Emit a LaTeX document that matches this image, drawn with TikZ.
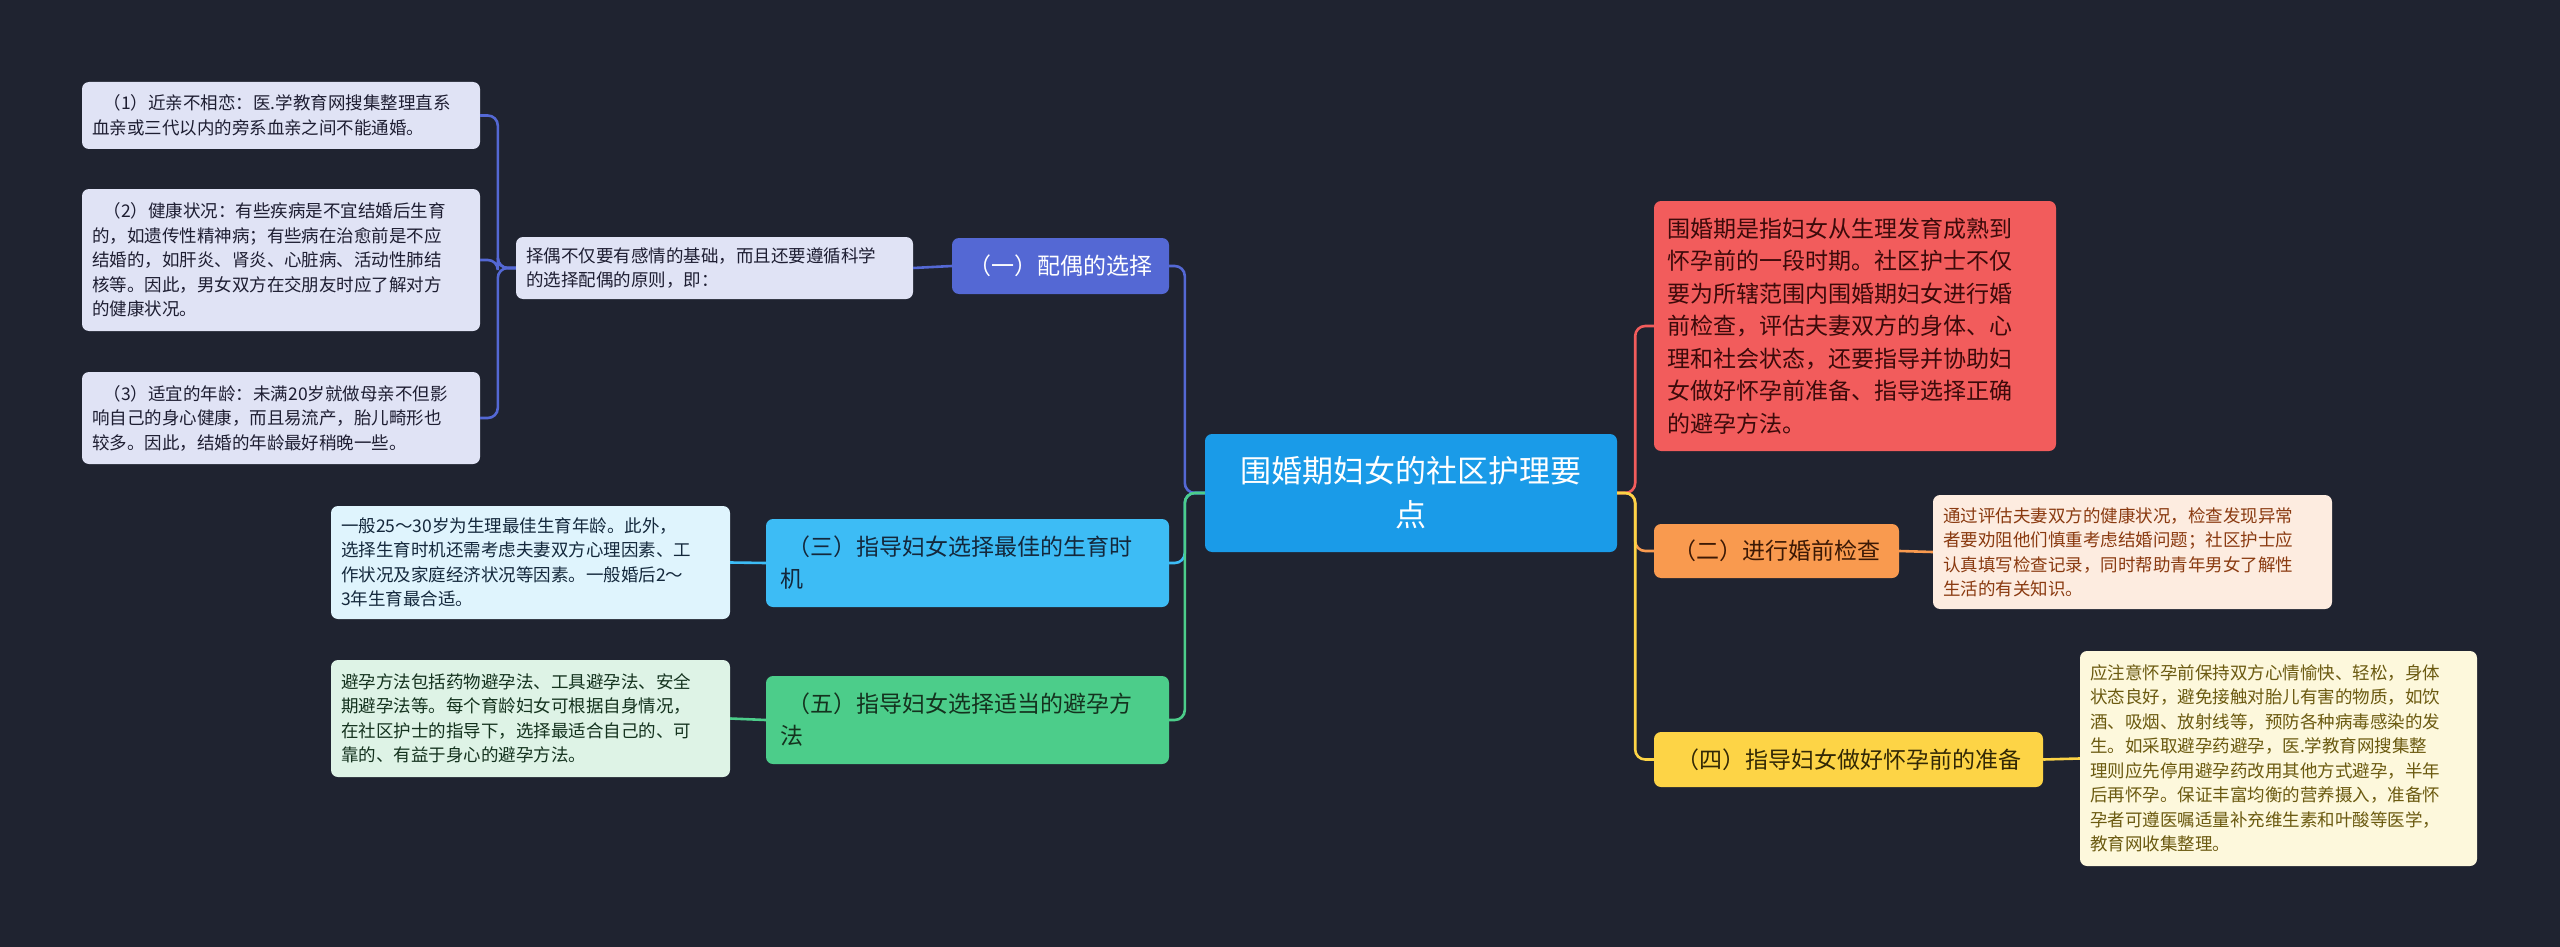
\documentclass[tikz,border=0pt]{standalone}
\usepackage{fontspec}
\setmainfont{Noto Sans CJK SC}
\begin{document}
\begin{tikzpicture}[x=1pt,y=-1pt,
  box/.style={rounded corners=7pt,inner sep=0pt,align=left,anchor=center},
  leaf/.style={box,font=\fontsize{17.5}{24.5}\selectfont,text width=#1},
  br/.style={box,font=\fontsize{23}{32}\selectfont},
  cn/.style={line width=2.6pt,rounded corners=10pt}]
\fill[fill={rgb,255:red,31;green,35;blue,48}] (0,0) rectangle (2560,947);
\useasboundingbox (0,0) rectangle (2560,947);
\definecolor{cI}{HTML}{5468D4}\definecolor{cIII}{HTML}{3DBCF5}\definecolor{cV}{HTML}{4CCD8A}
\definecolor{cR}{HTML}{F25C5C}\definecolor{cII}{HTML}{F99A4F}\definecolor{cIV}{HTML}{FDD446}
\definecolor{cC}{HTML}{1A9BE8}
% nodes
\node[box,fill=cC,minimum width=412,minimum height=118,text=white,align=center,text width=380,font=\fontsize{31}{44}\selectfont] (c) at (1411,493) {围婚期妇女的社区护理要\\点};
\node[br,fill=cI,minimum width=217,minimum height=56,text=white] (n1) at (1060.5,266) {（一）配偶的选择};
\node[leaf=377,fill={rgb,255:red,224;green,227;blue,245},minimum width=397,minimum height=62,text={rgb,255:red,30;green,30;blue,50}] (n1c) at (714.5,268) {择偶不仅要有感情的基础，而且还要遵循科学\\的选择配偶的原则，即：};
\node[leaf=378,fill={rgb,255:red,224;green,227;blue,245},minimum width=398,minimum height=67,text={rgb,255:red,30;green,30;blue,50}] (l1) at (281,115.5) {\ \ （1）近亲不相恋：医.学教育网搜集整理直系\\血亲或三代以内的旁系血亲之间不能通婚。};
\node[leaf=378,fill={rgb,255:red,224;green,227;blue,245},minimum width=398,minimum height=142,text={rgb,255:red,30;green,30;blue,50}] (l2) at (281,260) {\ \ （2）健康状况：有些疾病是不宜结婚后生育\\的，如遗传性精神病；有些病在治愈前是不应\\结婚的，如肝炎、肾炎、心脏病、活动性肺结\\核等。因此，男女双方在交朋友时应了解对方\\的健康状况。};
\node[leaf=378,fill={rgb,255:red,224;green,227;blue,245},minimum width=398,minimum height=92,text={rgb,255:red,30;green,30;blue,50}] (l3) at (281,418) {\ \ （3）适宜的年龄：未满20岁就做母亲不但影\\响自己的身心健康，而且易流产，胎儿畸形也\\较多。因此，结婚的年龄最好稍晚一些。};
\node[br,fill=cIII,minimum width=403,minimum height=88,text width=375,text={rgb,255:red,20;green,40;blue,60}] (n3) at (967.5,563) {\ （三）指导妇女选择最佳的生育时\\机};
\node[leaf=379,fill={rgb,255:red,223;green,244;blue,253},minimum width=399,minimum height=113,text={rgb,255:red,20;green,40;blue,60}] (t3) at (530.5,562.5) {一般25～30岁为生理最佳生育年龄。此外，\\选择生育时机还需考虑夫妻双方心理因素、工\\作状况及家庭经济状况等因素。一般婚后2～\\3年生育最合适。};
\node[br,fill=cV,minimum width=403,minimum height=88,text width=375,text={rgb,255:red,20;green,50;blue,30}] (n5) at (967.5,720) {\ （五）指导妇女选择适当的避孕方\\法};
\node[leaf=379,fill={rgb,255:red,222;green,243;blue,230},minimum width=399,minimum height=117,text={rgb,255:red,20;green,50;blue,30}] (t5) at (530.5,718.5) {避孕方法包括药物避孕法、工具避孕法、安全\\期避孕法等。每个育龄妇女可根据自身情况，\\在社区护士的指导下，选择最适合自己的、可\\靠的、有益于身心的避孕方法。};
\node[box,fill=cR,minimum width=402,minimum height=250,text width=376,font=\fontsize{23}{32.5}\selectfont,text={rgb,255:red,60;green,10;blue,10}] (r) at (1855,326) {围婚期是指妇女从生理发育成熟到\\怀孕前的一段时期。社区护士不仅\\要为所辖范围内围婚期妇女进行婚\\前检查，评估夫妻双方的身体、心\\理和社会状态，还要指导并协助妇\\女做好怀孕前准备、指导选择正确\\的避孕方法。};
\node[br,fill=cII,minimum width=245,minimum height=54,text={rgb,255:red,60;green,25;blue,5}] (n2) at (1776.5,551) {（二）进行婚前检查};
\node[leaf=379,fill={rgb,255:red,253;green,236;blue,224},minimum width=399,minimum height=114,text={rgb,255:red,138;green,58;blue,16}] (t2) at (2132.5,552) {通过评估夫妻双方的健康状况，检查发现异常\\者要劝阻他们慎重考虑结婚问题；社区护士应\\认真填写检查记录，同时帮助青年男女了解性\\生活的有关知识。};
\node[br,fill=cIV,minimum width=389,minimum height=55,text={rgb,255:red,50;green,40;blue,5}] (n4) at (1848.5,759.5) {（四）指导妇女做好怀孕前的准备};
\node[leaf=377,fill={rgb,255:red,253;green,248;blue,220},minimum width=397,minimum height=215,text={rgb,255:red,107;green,90;blue,16}] (t4) at (2278.5,758.5) {应注意怀孕前保持双方心情愉快、轻松，身体\\状态良好，避免接触对胎儿有害的物质，如饮\\酒、吸烟、放射线等，预防各种病毒感染的发\\生。如采取避孕药避孕，医.学教育网搜集整\\理则应先停用避孕药改用其他方式避孕，半年\\后再怀孕。保证丰富均衡的营养摄入，准备怀\\孕者可遵医嘱适量补充维生素和叶酸等医学，\\教育网收集整理。};
% connectors
\draw[cn,cI] (c.west) -- ++(-20,0) |- (n1.east);
\draw[cn,cIII] (c.west) -- ++(-20,0) |- (n3.east);
\draw[cn,cV] (c.west) -- ++(-20,0) |- (n5.east);
\draw[cn,cR] (c.east) -- ++(18,0) |- (r.west);
\draw[cn,cII] (c.east) -- ++(18,0) |- (n2.west);
\draw[cn,cIV] (c.east) -- ++(18,0) |- (n4.west);
\draw[cn,cI] (n1.west) -- (n1c.east);
\draw[cn,cI] (n1c.west) -- ++(-18,0) |- (l1.east);
\draw[cn,cI] (n1c.west) -- ++(-18,0) |- (l2.east);
\draw[cn,cI] (n1c.west) -- ++(-18,0) |- (l3.east);
\draw[cn,cIII] (n3.west) -- (t3.east);
\draw[cn,cV] (n5.west) -- (t5.east);
\draw[cn,cII] (n2.east) -- (t2.west);
\draw[cn,cIV] (n4.east) -- (t4.west);
\end{tikzpicture}
\end{document}
